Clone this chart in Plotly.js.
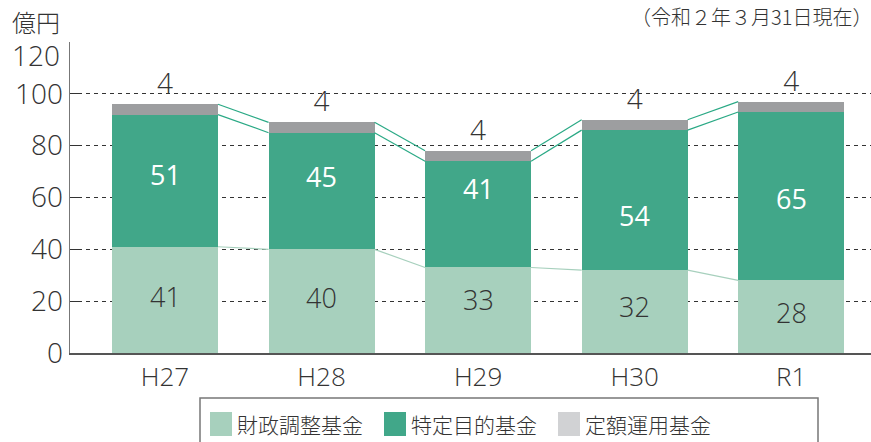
<!DOCTYPE html>
<html><head><meta charset="utf-8">
<script src="https://cdn.plot.ly/plotly-3.0.1.min.js"></script>
<style>html,body{margin:0;padding:0;background:#fff;}#chart{width:871px;height:442px;}</style>
</head><body><div id="chart"></div>
<script>
const categories = ["H27", "H28", "H29", "H30", "R1"];
const zaiseiChosei = [41, 40, 33, 32, 28];   // 財政調整基金
const tokuteiMokuteki = [51, 45, 41, 54, 65]; // 特定目的基金
const teigakuUnyo = [4, 4, 4, 4, 4];          // 定額運用基金
const seriesNames = ["財政調整基金", "特定目的基金", "定額運用基金"];
const yTicks = [0, 20, 40, 60, 80, 100, 120];

// label nudges (pixels, + = up) as placed in the reference
const lightLabelShift = [3, 4, 11, 5, 4];
const greenLabelShift = [6, 15, 26, -15, -2];

const FONT = '"Open Sans", "Noto Sans CJK JP", sans-serif';
const CJK = '"Noto Sans CJK JP", sans-serif';
const C_LIGHT = '#a7d0bd', C_GREEN = '#41a789', C_GRAY = '#9d9ea0', C_GRAY_LEG = '#d1d2d4';
const LINE_GREEN = '#2aa985', LINE_LIGHT = '#a7d0bd';
const BAR_W = 0.677;
const xs = categories.map((c, i) => i);

const M = {l: 70, r: 0, t: 42, b: 89}, W = 871, H = 442;
const pw = W - M.l - M.r, ph = H - M.t - M.b;
const px = p => (p - M.l) / pw;
const py = p => (H - M.b - p) / ph;

const lvl1 = zaiseiChosei.slice();
const lvl2 = zaiseiChosei.map((v, i) => v + tokuteiMokuteki[i]);
const lvl3 = lvl2.map((v, i) => v + teigakuUnyo[i]);

function connector(levels, color) {
  const x = [], y = [];
  for (let i = 0; i < levels.length - 1; i++) {
    x.push(xs[i] + BAR_W / 2, xs[i + 1] - BAR_W / 2, null);
    y.push(levels[i], levels[i + 1], null);
  }
  return {type: 'scatter', mode: 'lines', x, y, line: {color, width: 1.2},
          hoverinfo: 'skip', showlegend: false, cliponaxis: false};
}

const traces = [
  {type: 'bar', x: xs, y: zaiseiChosei, name: seriesNames[0], width: BAR_W,
   marker: {color: C_LIGHT}},
  {type: 'bar', x: xs, y: tokuteiMokuteki, name: seriesNames[1], width: BAR_W,
   marker: {color: C_GREEN}},
  {type: 'bar', x: xs, y: teigakuUnyo, name: seriesNames[2], width: BAR_W,
   marker: {color: C_GRAY}, text: teigakuUnyo.map(String), textposition: 'outside',
   constraintext: 'none', cliponaxis: false,
   textfont: {family: FONT, size: 28, color: '#333', weight: 300}},
  connector(lvl1, LINE_LIGHT),
  connector(lvl2, LINE_GREEN),
  connector(lvl3, LINE_GREEN)
];

const annotations = [
  {xref: 'paper', yref: 'paper', x: px(10), y: py(21), xanchor: 'left', yanchor: 'middle',
   text: '億円', showarrow: false, font: {family: CJK, size: 24, color: '#333', weight: 300}},
  {xref: 'paper', yref: 'paper', x: px(874), y: py(17), xanchor: 'right', yanchor: 'middle',
   text: '（令和２年３月31日現在）', showarrow: false, font: {family: CJK, size: 20, color: '#333', weight: 300}},
  // 120 label sits lower than its gridline in the reference
  {xref: 'paper', yref: 'paper', x: px(62), y: py(55), xanchor: 'right', yanchor: 'middle',
   text: String(yTicks[yTicks.length - 1]), showarrow: false,
   font: {family: FONT, size: 28, color: '#333', weight: 300}}
];
// in-bar labels
xs.forEach((x, i) => {
  annotations.push({xref: 'x', yref: 'y', x, y: zaiseiChosei[i] / 2, yshift: lightLabelShift[i],
    text: String(zaiseiChosei[i]), showarrow: false,
    font: {family: FONT, size: 27, color: '#333', weight: 300}});
  annotations.push({xref: 'x', yref: 'y', x, y: zaiseiChosei[i] + tokuteiMokuteki[i] / 2,
    yshift: greenLabelShift[i], text: String(tokuteiMokuteki[i]), showarrow: false,
    font: {family: FONT, size: 27, color: '#fff', weight: 500}});
});

// custom legend
const legX = [[210, 235], [384, 409], [558, 583]];
const legColors = [C_LIGHT, C_GREEN, C_GRAY_LEG];
const shapes = [
  {type: 'rect', xref: 'paper', yref: 'paper', x0: px(200), x1: px(818), y0: py(470), y1: py(398),
   line: {color: '#777', width: 1.5}, fillcolor: 'rgba(0,0,0,0)', layer: 'above'}
];
seriesNames.forEach((n, i) => {
  shapes.push({type: 'rect', xref: 'paper', yref: 'paper', x0: px(legX[i][0]), x1: px(legX[i][0] + 22),
    y0: py(436), y1: py(412), line: {width: 0}, fillcolor: legColors[i]});
  annotations.push({xref: 'paper', yref: 'paper', x: px(legX[i][1]), y: py(424), xanchor: 'left',
    yanchor: 'middle', text: n, showarrow: false, font: {family: CJK, size: 21, color: '#333', weight: 300}});
});

const layout = {
  width: W, height: H, margin: M, barmode: 'stack', showlegend: false,
  paper_bgcolor: '#fff', plot_bgcolor: '#fff',
  font: {family: FONT, color: '#333'},
  xaxis: {range: [-0.607, 4.51], tickvals: xs, ticktext: categories, showgrid: false,
          showline: true, linecolor: '#555', linewidth: 1.5, ticks: '', zeroline: false,
          tickfont: {family: FONT, size: 26, color: '#333', weight: 300}, fixedrange: true},
  yaxis: {range: [0, 120], tickvals: yTicks, ticktext: yTicks.map((v, i) => i === yTicks.length - 1 ? '' : String(v)),
          showgrid: true, gridcolor: '#333', gridwidth: 1,
          griddash: '4px,4px', showline: true, linecolor: '#777', linewidth: 1.5,
          ticks: 'inside', ticklen: 12, tickcolor: '#333', tickwidth: 1.2, zeroline: false,
          tickfont: {family: FONT, size: 28, color: '#333', weight: 300}, fixedrange: true},
  shapes, annotations
};

Plotly.newPlot('chart', traces, layout, {displayModeBar: false, staticPlot: true});
</script></body></html>
